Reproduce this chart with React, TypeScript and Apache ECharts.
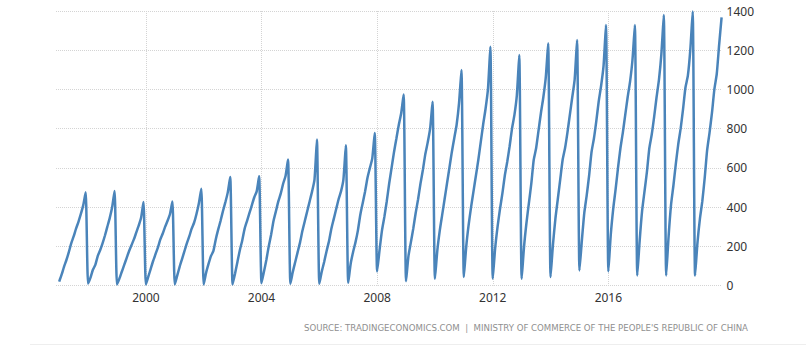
import React, { useEffect, useRef } from "react";
import * as echarts from "echarts";

// Year-to-date monthly values (Jan..Dec)
const years = [1997, 1998, 1999, 2000, 2001, 2002, 2003, 2004, 2005, 2006, 2007, 2008, 2009, 2010, 2011, 2012, 2013, 2014, 2015, 2016, 2017, 2018, 2019];
const v1997 = [20, 55, 95, 130, 170, 215, 250, 290, 325, 365, 410, 475];
const v1998 = [10, 40, 80, 105, 150, 180, 215, 255, 300, 345, 400, 482];
const v1999 = [5, 35, 70, 105, 140, 175, 205, 235, 270, 305, 345, 426];
const v2000 = [5, 45, 85, 125, 160, 195, 235, 265, 300, 330, 365, 429];
const v2001 = [5, 50, 95, 135, 175, 215, 250, 290, 320, 365, 420, 494];
const v2002 = [5, 65, 110, 150, 175, 235, 285, 330, 380, 425, 475, 553];
const v2003 = [5, 60, 120, 180, 230, 290, 330, 370, 410, 450, 480, 557];
const v2004 = [12, 70, 130, 200, 260, 330, 380, 430, 470, 520, 560, 642];
const v2005 = [9, 70, 120, 170, 220, 280, 330, 380, 430, 480, 540, 744];
const v2006 = [9, 70, 120, 175, 225, 290, 340, 390, 440, 480, 540, 715];
const v2007 = [14, 110, 170, 220, 280, 360, 420, 480, 550, 600, 650, 778];
const v2008 = [72, 180, 280, 350, 430, 520, 600, 680, 750, 820, 880, 974];
const v2009 = [22, 150, 220, 290, 370, 440, 520, 590, 670, 730, 800, 937];
const v2010 = [34, 180, 280, 360, 440, 520, 600, 680, 750, 820, 930, 1099];
const v2011 = [43, 200, 310, 400, 480, 560, 640, 730, 820, 900, 1000, 1218];
const v2012 = [34, 190, 300, 390, 470, 560, 630, 710, 800, 870, 970, 1175];
const v2013 = [34, 200, 320, 420, 520, 640, 700, 790, 880, 960, 1060, 1235];
const v2014 = [43, 210, 340, 440, 540, 640, 700, 780, 870, 960, 1050, 1252];
const v2015 = [77, 230, 370, 460, 560, 680, 750, 840, 940, 1020, 1120, 1329];
const v2016 = [72, 260, 390, 490, 600, 700, 780, 870, 960, 1040, 1150, 1329];
const v2017 = [51, 230, 380, 480, 580, 700, 770, 860, 960, 1050, 1180, 1380];
const v2018 = [51, 250, 410, 510, 620, 720, 800, 900, 1010, 1070, 1200, 1397];
const v2019 = [51, 220, 340, 430, 550, 690, 780, 880, 1000, 1080, 1230, 1368];
const yearValues = [v1997, v1998, v1999, v2000, v2001, v2002, v2003, v2004, v2005, v2006, v2007, v2008, v2009, v2010, v2011, v2012, v2013, v2014, v2015, v2016, v2017, v2018, v2019];

const xTickYears = [2000, 2004, 2008, 2012, 2016];
const sourceText = "SOURCE: TRADINGECONOMICS.COM  |  MINISTRY OF COMMERCE OF THE PEOPLE'S REPUBLIC OF CHINA";

export default function App() {
  const ref = useRef<HTMLDivElement>(null);
  useEffect(() => {
    document.body.style.margin = "0";
    if (!ref.current) return;
    const chart = echarts.init(ref.current, undefined, { renderer: "svg" });
    const data: [number, number][] = [];
    years.forEach((y, i) => {
      yearValues[i].forEach((v, m) => data.push([y + m / 12, v]));
    });
    const gridLine = { show: true, lineStyle: { color: "#d4d4d4", type: "dotted" as const, width: 1 } };
    chart.setOption({
      animation: false,
      backgroundColor: "#ffffff",
      grid: { left: 56, right: 84.4, top: 11, bottom: 66.5, containLabel: false },
      xAxis: {
        type: "value",
        min: 1996.89,
        max: 2019.917,
        axisLine: { show: false },
        axisTick: { show: false, customValues: xTickYears },
        axisLabel: {
          customValues: xTickYears,
          color: "#333",
          fontSize: 12,
          fontFamily: "Noto Sans",
          margin: 6,
          formatter: (v: number) => String(Math.round(v)),
        },
        splitLine: gridLine,
      },
      yAxis: {
        type: "value",
        position: "right",
        min: 0,
        max: 1400,
        interval: 200,
        axisLine: { show: false },
        axisTick: { show: false },
        axisLabel: {
          color: "#333",
          fontSize: 12,
          fontFamily: "Noto Sans",
          margin: 5,
          formatter: (v: number) => String(v),
        },
        splitLine: gridLine,
      },
      series: [
        {
          type: "line",
          data,
          showSymbol: false,
          smooth: 0.2,
          lineStyle: { color: "#4a84ba", width: 2.5 },
          itemStyle: { color: "#4a84ba" },
        },
      ],
      graphic: [
        {
          type: "text",
          right: 58,
          top: 323,
          style: { text: sourceText, fill: "#8f8f8f", font: "8.6px 'DejaVu Sans'" },
        },
        {
          type: "line",
          shape: { x1: 30, y1: 344.5, x2: 806, y2: 344.5 },
          style: { stroke: "#eeeeee", lineWidth: 1 },
        },
      ],
    });
    return () => chart.dispose();
  }, []);
  return <div ref={ref} style={{ position: "absolute", left: 0, top: 0, width: 806, height: 352 }} />;
}
